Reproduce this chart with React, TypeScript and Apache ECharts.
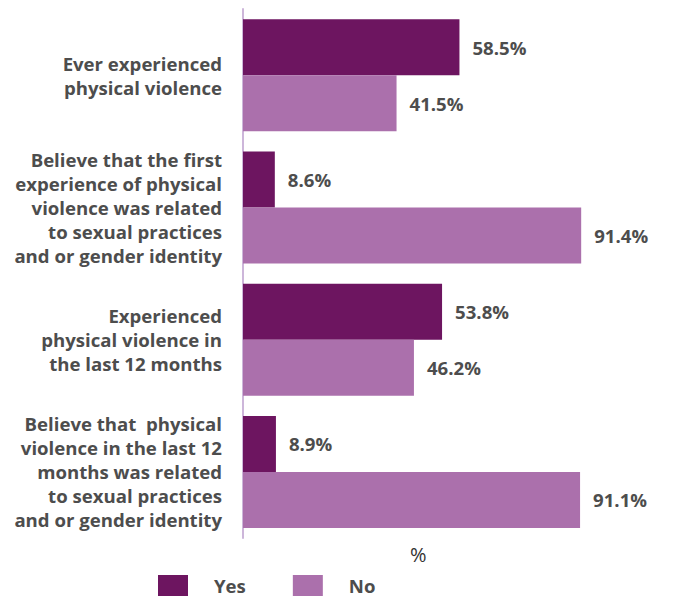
import React, { useEffect, useRef } from "react";
import * as echarts from "echarts";

const categories = [
  "Ever experienced\nphysical violence",
  "Believe that the first\nexperience of physical\nviolence was related\nto sexual practices\nand or gender identity",
  "Experienced\nphysical violence in\nthe last 12 months",
  "Believe that  physical\nviolence in the last 12\nmonths was related\nto sexual practices\nand or gender identity",
];
const yesValues = [58.5, 8.6, 53.8, 8.9];
const noValues = [41.5, 91.4, 46.2, 91.1];
const seriesNames = ["Yes", "No"];
const axisName = "%";

const YES_COLOR = "#6d1560";
const NO_COLOR = "#ab70ac";
const TEXT_COLOR = "#4d4d4d";
const FONT = "'Open Sans', 'Noto Sans', sans-serif";
const FS = 18.6;

export default function App() {
  const ref = useRef<HTMLDivElement>(null);
  useEffect(() => {
    if (!ref.current) return;
    const chart = echarts.init(ref.current, null, { renderer: "svg" });
    const labelCfg = {
      show: true,
      position: "right",
      distance: 13,
      formatter: (p: any) => p.value.toFixed(1) + "%",
      fontFamily: FONT,
      fontSize: FS,
      fontWeight: "bold",
      color: TEXT_COLOR,
    };
    chart.setOption({
      animation: false,
      backgroundColor: "#ffffff",
      grid: { left: 243, top: 9, width: 370, height: 529, containLabel: false },
      xAxis: {
        type: "value",
        min: 0,
        max: 100,
        axisLine: { show: false },
        axisTick: { show: false },
        axisLabel: { show: false },
        splitLine: { show: false },
      },
      yAxis: {
        type: "category",
        inverse: true,
        data: categories,
        axisLine: { show: true, lineStyle: { color: "#cdb6da", width: 2 } },
        axisTick: { show: false },
        axisLabel: {
          margin: 21,
          fontFamily: FONT,
          fontSize: FS,
          fontWeight: "bold",
          color: TEXT_COLOR,
          lineHeight: 24,
          align: "right",
        },
      },
      legend: {
        data: seriesNames,
        left: 158,
        top: 575,
        padding: 0,
        itemWidth: 30,
        itemHeight: 21,
        itemGap: 47,
        icon: "rect",
        textStyle: {
          fontFamily: FONT,
          fontSize: FS,
          fontWeight: "bold",
          color: TEXT_COLOR,
          lineHeight: 17,
          padding: [0, 0, 0, 21],
        },
      },
      graphic: [
        {
          type: "text",
          left: 410,
          top: 544,
          style: {
            text: axisName,
            fontFamily: FONT,
            fontSize: 20,
            fill: "#333333",
          },
        },
      ],
      series: [
        {
          name: seriesNames[0],
          type: "bar",
          data: yesValues,
          barWidth: 56,
          barGap: "0%",
          itemStyle: { color: YES_COLOR },
          label: labelCfg,
        },
        {
          name: seriesNames[1],
          type: "bar",
          data: noValues,
          barWidth: 56,
          barGap: "0%",
          itemStyle: { color: NO_COLOR },
          label: labelCfg,
        },
      ],
    });
    return () => chart.dispose();
  }, []);
  return (
    <div
      ref={ref}
      style={{ position: "fixed", left: 0, top: 0, width: 679, height: 596 }}
    />
  );
}
